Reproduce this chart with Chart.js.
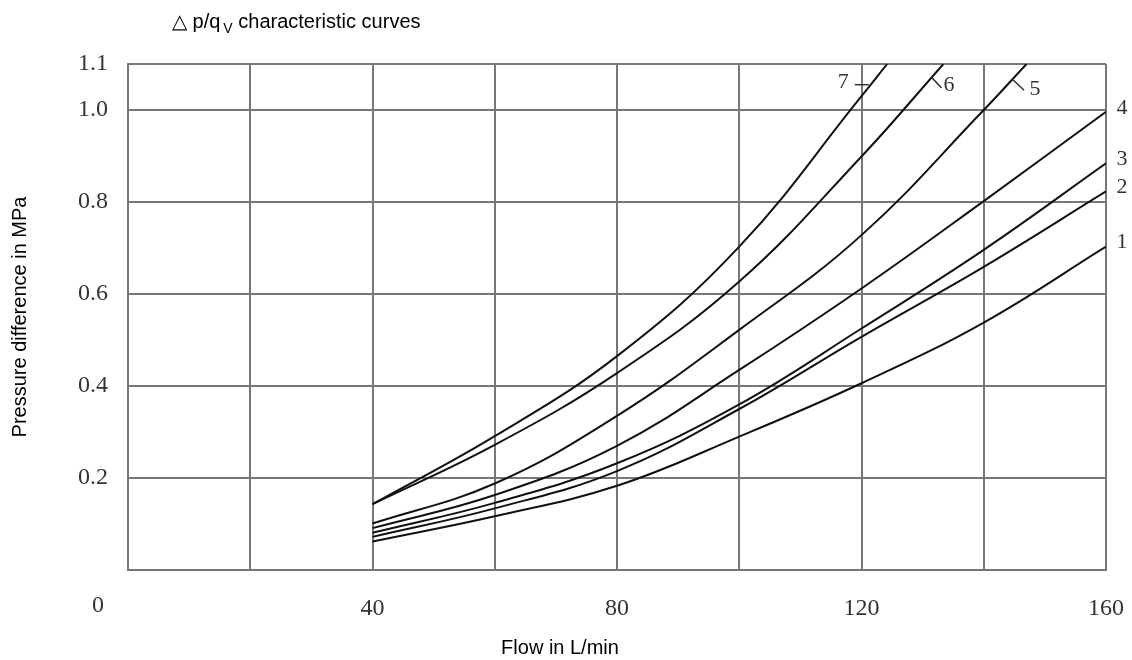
<!DOCTYPE html>
<html lang="en">

<head>
  <meta charset="UTF-8" />
  <title>Δp/qv characteristic curves</title>
  <script src="https://cdn.jsdelivr.net/npm/chart.js@4.4.0/dist/chart.umd.min.js"></script>
  <style>
    html, body { margin: 0; padding: 0; background: #fff; }
    .chart-wrapper { position: relative; width: 1132px; height: 660px; }
  </style>
</head>

<body>
  <div class="chart-wrapper">
    <canvas id="dp-graph"></canvas>
  </div>

<script>
  const flow = [40, 60, 80, 100, 120, 140, 160];
  // pressure difference (MPa) per curve
  const curve1 = [0.062, 0.117, 0.183, 0.290, 0.406, 0.538, 0.703];
  const curve2 = [0.072, 0.134, 0.215, 0.350, 0.507, 0.659, 0.823];
  const curve3 = [0.081, 0.146, 0.232, 0.360, 0.525, 0.696, 0.884];
  const curve4 = [0.091, 0.163, 0.270, 0.435, 0.612, 0.802, 0.996];
  const curve5 = [0.101, 0.188, 0.335, 0.522, 0.728, 1.000];
  const curve6 = [0.143, 0.272, 0.428, 0.627, 0.899];
  const curve7 = [0.143, 0.291, 0.465, 0.703, 1.030];
  // flow where curves 5, 6, 7 leave the top edge (1.1 MPa)
  const topExit = [147, 133.4, 124.2];
  const yMax = 1.1;
  const yTicks = [0, 0.2, 0.4, 0.6, 0.8, 1.0, 1.1];
  const xLabels = [40, 80, 120, 160];

  const serif = '"Liberation Serif", "DejaVu Serif", serif';
  const sans = '"Liberation Sans", Arial, sans-serif';

  function points(values, exitFlow) {
    const pts = values.map((v, i) => ({ x: flow[i], y: v }));
    if (exitFlow) pts.push({ x: exitFlow, y: yMax });
    return pts;
  }

  const curves = [
    points(curve1), points(curve2), points(curve3), points(curve4),
    points(curve5, topExit[0]), points(curve6, topExit[1]), points(curve7, topExit[2])
  ];

  // titles, origin "0" and curve numbers
  const textPlugin = {
    id: 'textPlugin',
    afterDraw(chart) {
      const ctx = chart.ctx;
      const xs = chart.scales.x;
      const ys = chart.scales.y;
      const area = chart.chartArea;
      ctx.save();

      // chart title with subscript
      ctx.fillStyle = '#000';
      ctx.textBaseline = 'alphabetic';
      ctx.textAlign = 'left';
      ctx.font = '20px ' + sans;
      let tx = 172;
      const t1 = '\u25B3 p/q';
      ctx.fillText(t1, tx, 28);
      tx += ctx.measureText(t1).width + 3;
      ctx.font = '14px ' + sans;
      ctx.fillText('V', tx, 33);
      tx += ctx.measureText('V').width;
      ctx.font = '20px ' + sans;
      ctx.fillText(' characteristic curves', tx, 28);

      // x axis title
      ctx.textAlign = 'center';
      ctx.textBaseline = 'middle';
      ctx.fillText('Flow in L/min', 560, 648);

      // origin label
      ctx.font = '24px ' + serif;
      ctx.fillStyle = '#333';
      ctx.fillText('0', 98, 606);

      // curve numbers 1-4 on the right
      ctx.font = '22px ' + serif;
      [curve1, curve2, curve3, curve4].forEach((c, i) => {
        ctx.fillText(String(i + 1), area.right + 16, ys.getPixelForValue(c[c.length - 1]) - 4);
      });

      // curves 5-7 near the top, with leaders
      ctx.strokeStyle = '#333';
      ctx.lineWidth = 1.5;
      ctx.fillText('7', xs.getPixelForValue(117), ys.getPixelForValue(1.061));
      ctx.beginPath();
      ctx.moveTo(xs.getPixelForValue(118.9), ys.getPixelForValue(1.055));
      ctx.lineTo(xs.getPixelForValue(121.2), ys.getPixelForValue(1.055));
      ctx.stroke();

      ctx.fillText('6', xs.getPixelForValue(134.3), ys.getPixelForValue(1.054));
      ctx.beginPath();
      ctx.moveTo(xs.getPixelForValue(131.4), ys.getPixelForValue(1.072));
      ctx.lineTo(xs.getPixelForValue(133.1), ys.getPixelForValue(1.048));
      ctx.stroke();

      ctx.fillText('5', xs.getPixelForValue(148.4), ys.getPixelForValue(1.046));
      ctx.beginPath();
      ctx.moveTo(xs.getPixelForValue(144.6), ys.getPixelForValue(1.068));
      ctx.lineTo(xs.getPixelForValue(146.6), ys.getPixelForValue(1.043));
      ctx.stroke();

      ctx.restore();
    }
  };

  const dpChart = new Chart(document.getElementById('dp-graph').getContext('2d'), {
    type: 'line',
    data: {
      datasets: curves.map((pts, i) => ({
        label: 'Curve ' + (i + 1),
        data: pts,
        borderColor: '#111',
        borderWidth: 2,
        pointRadius: 0,
        fill: false,
        tension: 0.4
      }))
    },
    options: {
      responsive: true,
      maintainAspectRatio: false,
      animation: false,
      layout: { padding: { left: 0, right: 26, top: 64, bottom: 0 } },
      plugins: {
        legend: { display: false },
        tooltip: { enabled: false }
      },
      scales: {
        x: {
          type: 'linear',
          min: 0,
          max: 160,
          afterFit: (s) => { s.height = 90; s.paddingLeft = 0; s.paddingRight = 0; },
          grid: { color: '#777', lineWidth: 2, drawTicks: false },
          border: { color: '#777', width: 2 },
          ticks: {
            stepSize: 20,
            padding: 24,
            color: '#333',
            font: { family: serif, size: 24 },
            maxRotation: 0,
            autoSkip: false,
            callback: (v) => xLabels.includes(v) ? String(v) : ''
          }
        },
        y: {
          min: 0,
          max: yMax,
          afterFit: (s) => { s.width = 128; s.paddingTop = 0; s.paddingBottom = 0; },
          afterBuildTicks: (s) => { s.ticks = yTicks.map(v => ({ value: v })); },
          grid: { color: '#777', lineWidth: 2, drawTicks: false },
          border: { color: '#777', width: 2 },
          ticks: {
            padding: 20,
            color: '#333',
            font: { family: serif, size: 24 },
            callback: (v) => v === 0 ? '' : v.toFixed(1)
          },
          title: {
            display: true,
            text: 'Pressure difference in MPa',
            color: '#000',
            font: { family: sans, size: 20 },
            padding: { top: 8, bottom: 0 }
          }
        }
      }
    },
    plugins: [textPlugin]
  });
</script>
</body>

</html>
